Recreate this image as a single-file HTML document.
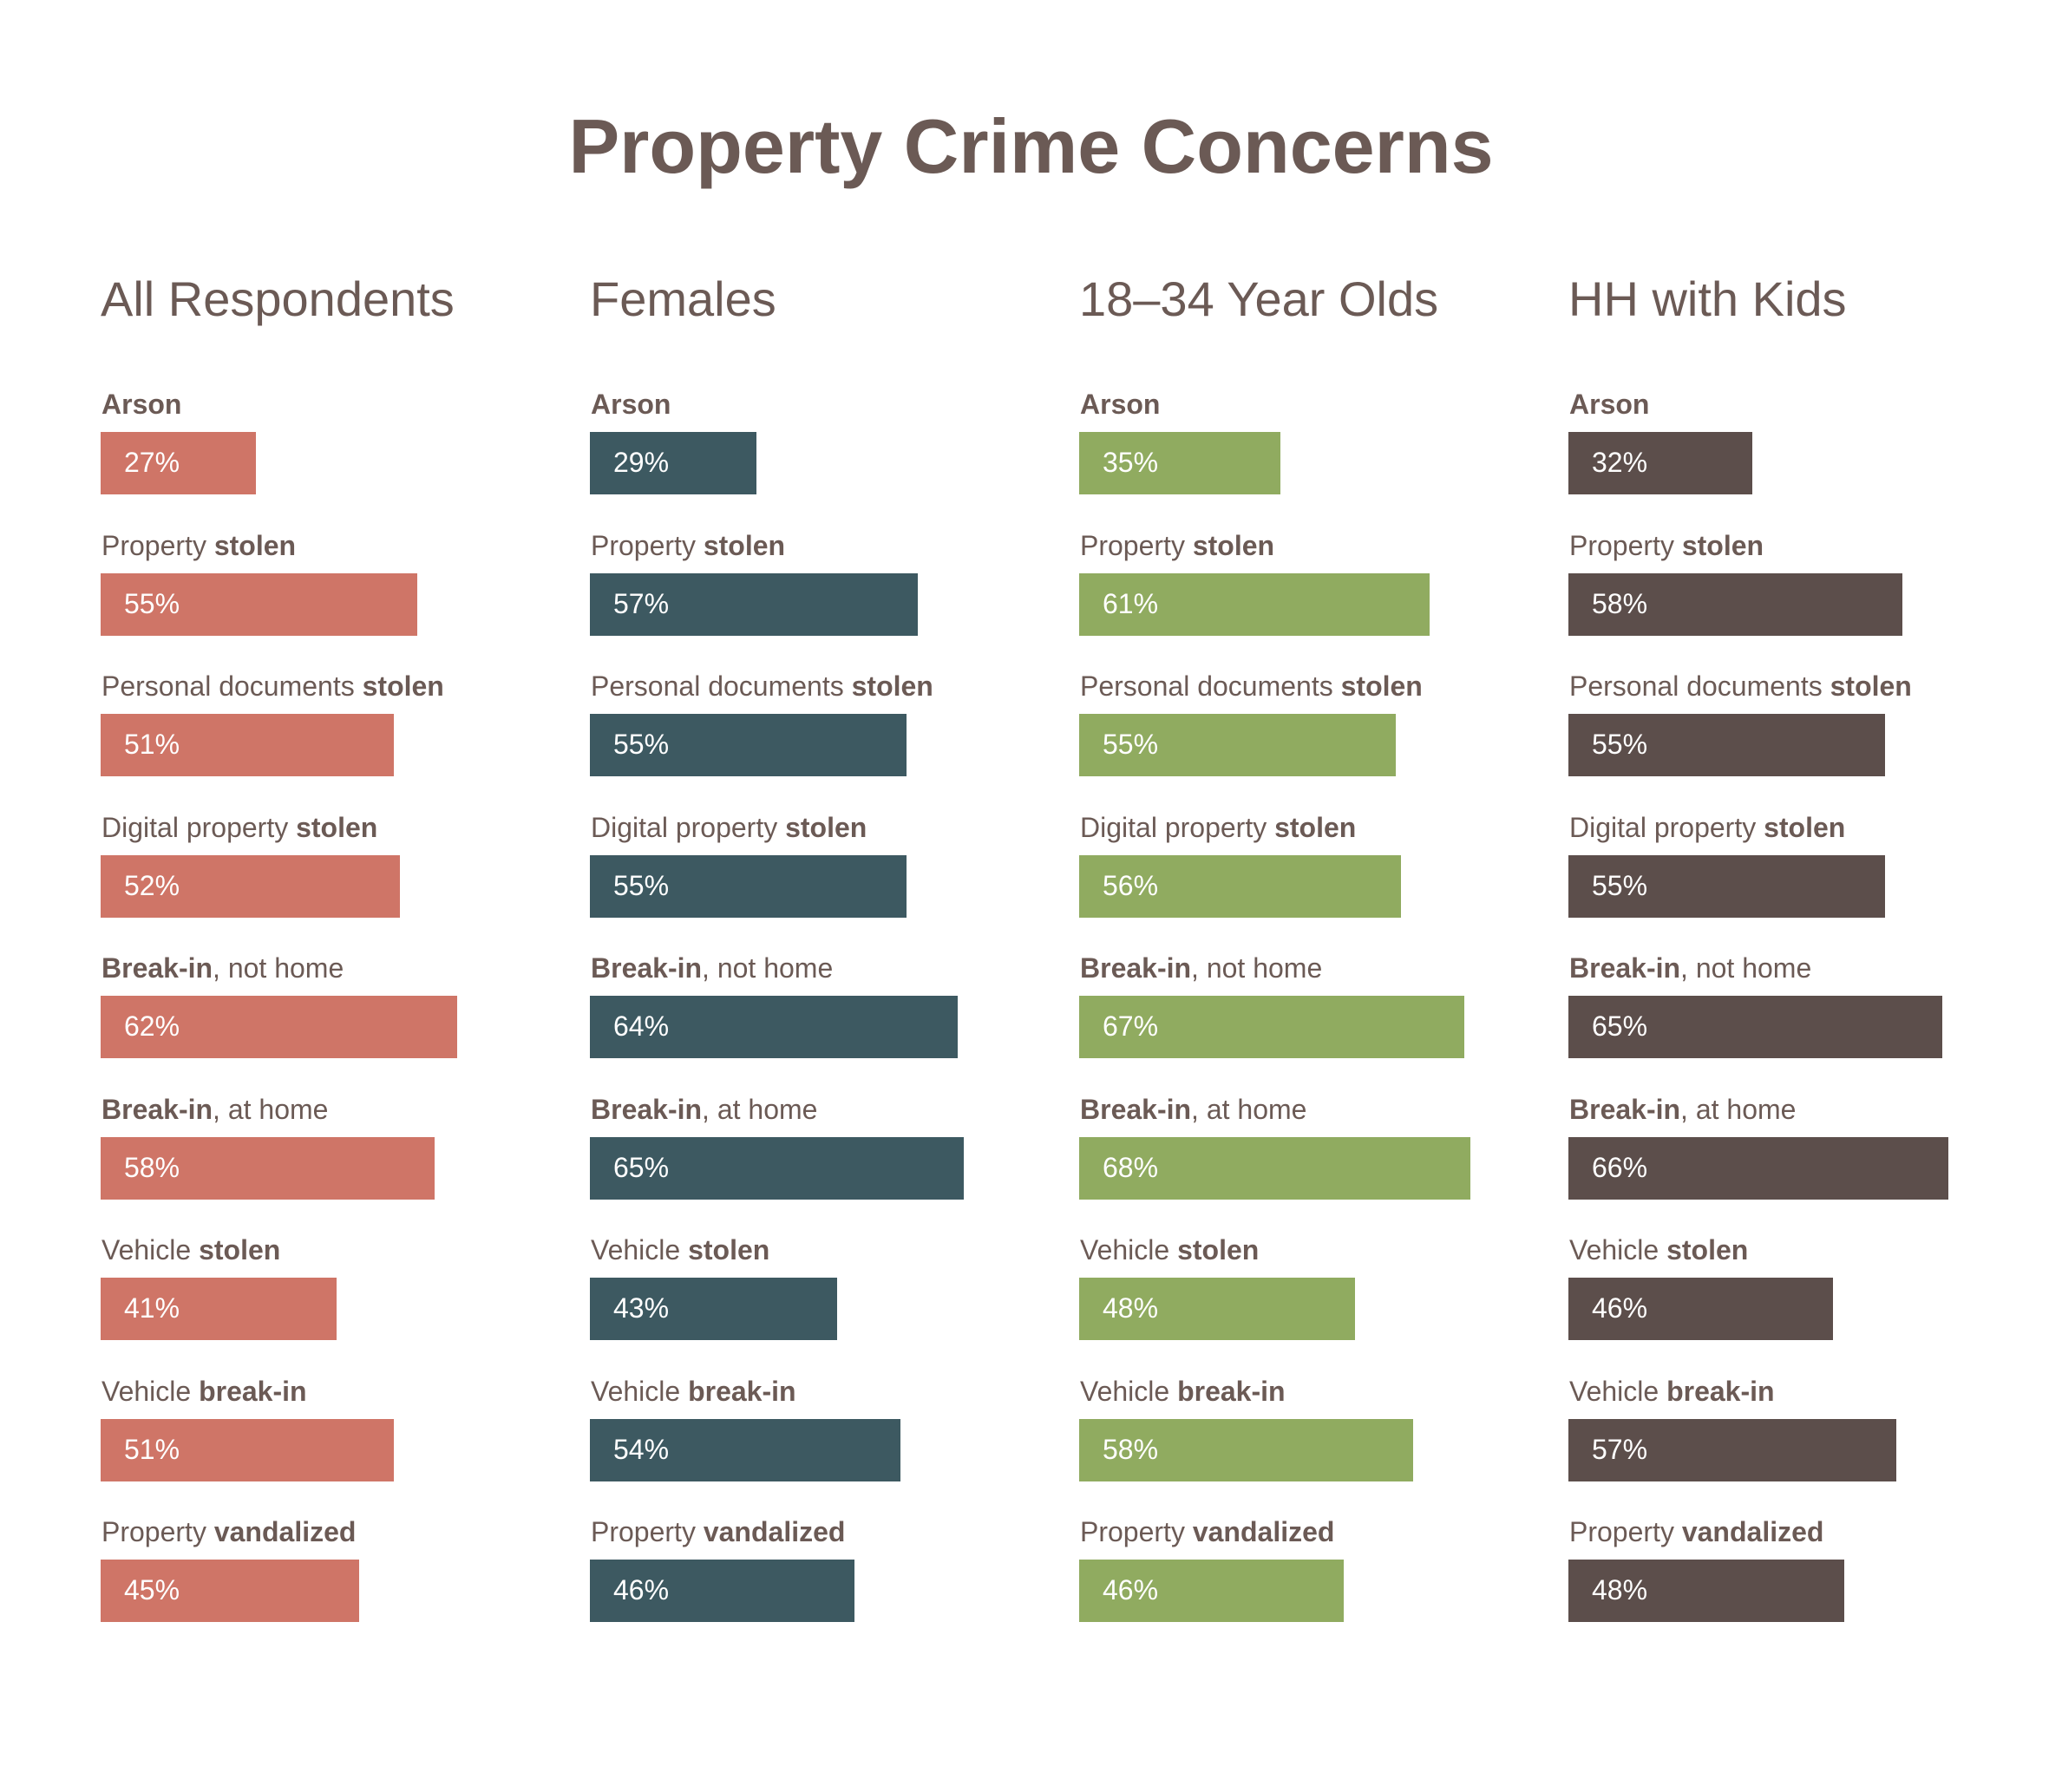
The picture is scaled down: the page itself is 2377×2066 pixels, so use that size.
<!DOCTYPE html>
<html><head><meta charset="utf-8"><style>
body{margin:0;background:#fff;}
#root{position:relative;width:2377px;height:2066px;overflow:hidden;font-family:"Liberation Sans",sans-serif;color:#6b5a55;}
.title{position:absolute;left:0;width:2377px;top:118px;text-align:center;font-size:88px;font-weight:bold;color:#6b5a55;}
.hdr{position:absolute;font-size:56px;top:312px;white-space:nowrap;color:#6b5a55;}
.lbl{position:absolute;font-size:32px;white-space:nowrap;color:#6b5a55;}
.bar{position:absolute;height:72px;}
.val{position:absolute;font-size:32px;color:#fff;white-space:nowrap;}
</style></head><body>
<div id="root">
<div class="title">Property Crime Concerns</div>
</div>
<script>
const groups=["All Respondents","Females","18–34 Year Olds","HH with Kids"];
const colors=["#cf7567","#3d5961","#90ab60","#5c4e4b"];
const categoriesPlain=["","Property ","Personal documents ","Digital property ","","","Vehicle ","Vehicle ","Property "];
const categoriesBold=["Arson","stolen","stolen","stolen","Break-in","Break-in","stolen","break-in","vandalized"];
const categoriesTail=["","","","","", "","","",""];
const categoriesAfter=["","","","",", not home",", at home","","",""];
const allValues=[27,55,51,52,62,58,41,51,45];
const femaleValues=[29,57,55,55,64,65,43,54,46];
const youngValues=[35,61,55,56,67,68,48,58,46];
const kidsValues=[32,58,55,55,65,66,46,57,48];
const series=[allValues,femaleValues,youngValues,kidsValues];
const root=document.getElementById('root');
const colX=g=>116+g*564;
const rowY=i=>498+i*162.5;
const xScale=v=>v*6.63;
groups.forEach((g,gi)=>{
  const h=document.createElement('div');h.className='hdr';
  
  
  h.style.left=colX(gi)+'px';h.textContent=g;root.appendChild(h);
  series[gi].forEach((v,i)=>{
    const l=document.createElement('div');l.className='lbl';
    
    
    l.style.left=(colX(gi)+1)+'px';l.style.top=(rowY(i)-50)+'px';
    let html='';
    if(categoriesPlain[i])html+=categoriesPlain[i];
    html+='<b>'+categoriesBold[i]+'</b>'+categoriesAfter[i];
    l.innerHTML=html;root.appendChild(l);
    const b=document.createElement('div');b.className='bar';
    
    
    b.style.left=colX(gi)+'px';b.style.top=rowY(i)+'px';b.style.width=xScale(v)+'px';b.style.background=colors[gi];
    root.appendChild(b);
    const t=document.createElement('div');t.className='val';
    
    
    t.style.left=(colX(gi)+27)+'px';t.style.top=(rowY(i)+17)+'px';t.textContent=v+'%';
    root.appendChild(t);
  });
});
</script>
</body></html>
